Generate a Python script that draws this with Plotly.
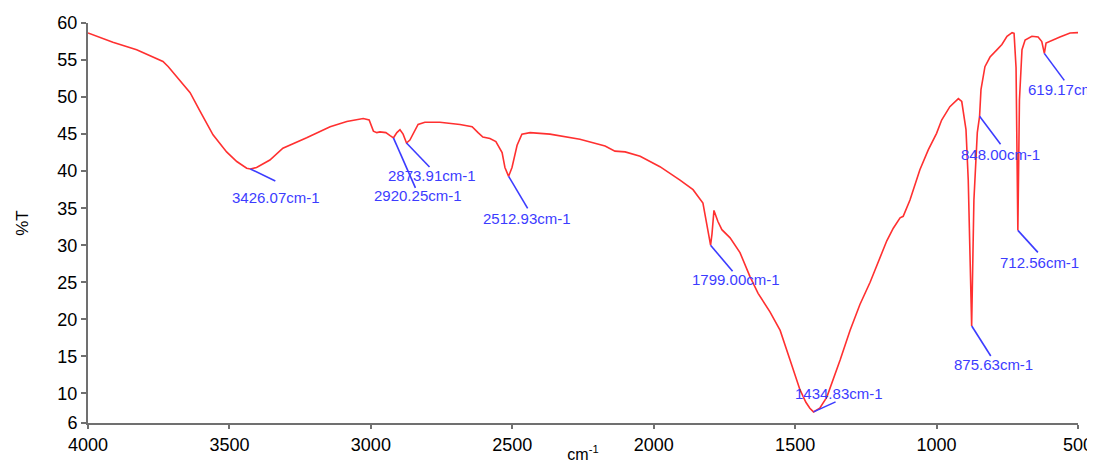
import plotly.graph_objects as go

# Spectrum (wavenumber cm-1, %T)
wavenumber = [4000, 3912, 3828, 3735, 3716, 3675, 3639, 3604, 3558, 3510, 3474, 3439, 3426,
              3404, 3357, 3311, 3227, 3144, 3085, 3027, 3006, 2991, 2979, 2968, 2947, 2932,
              2920, 2908, 2897, 2886, 2874, 2862, 2851, 2833, 2809, 2756, 2685, 2642, 2621,
              2604, 2579, 2558, 2536, 2526, 2513, 2501, 2483, 2466, 2437, 2367, 2261, 2172,
              2137, 2101, 2048, 1978, 1907, 1861, 1826, 1812, 1799, 1794, 1787, 1773, 1759,
              1730, 1695, 1660, 1631, 1589, 1553, 1518, 1483, 1462, 1448, 1435, 1413, 1388,
              1366, 1341, 1306, 1271, 1235, 1200, 1176, 1153, 1129, 1118, 1094, 1059, 1029,
              1000, 982, 953, 923, 911, 896, 888, 876, 868, 856, 848, 843, 829, 811, 786, 769,
              751, 733, 726, 719, 712.6, 707, 698, 687, 663, 641, 628, 619, 613, 599, 564, 528,
              500]
transmittance = [58.65, 57.4, 56.4, 54.8, 54.1, 52.3, 50.6, 48.1, 44.9, 42.6, 41.3, 40.4, 40.3,
                 40.5, 41.5, 43.1, 44.5, 46.0, 46.7, 47.1, 46.9, 45.4, 45.2, 45.3, 45.2, 44.8,
                 44.5, 45.2, 45.6, 45.0, 43.8, 44.2, 45.0, 46.3, 46.6, 46.6, 46.3, 46.0, 45.2,
                 44.6, 44.4, 44.0, 42.5, 40.5, 39.3, 40.5, 43.5, 45.0, 45.2, 45.0, 44.3, 43.4,
                 42.7, 42.6, 42.0, 40.6, 38.8, 37.5, 35.7, 32.5, 30.0, 31.5, 34.7, 33.2, 32.1,
                 31.0, 29.0, 25.8, 23.5, 21.0, 18.5, 14.5, 10.5, 8.8, 8.0, 7.5, 8.0, 9.5,
                 11.8, 14.5, 18.5, 22.0, 25.0, 28.4, 30.6, 32.3, 33.7, 33.9, 36.1, 40.2, 42.9,
                 45.1, 46.9, 48.7, 49.8, 49.4, 45.6, 38.8, 19.1, 36.1, 45.2, 47.4, 51.0, 54.1,
                 55.4, 56.4, 57.1, 58.2, 58.7, 58.6, 54.0, 32.0, 49.6, 56.4, 57.7, 58.2, 58.1,
                 57.5, 55.9, 57.3, 57.5, 58.1, 58.65, 58.7]

# Labelled peaks
peak_wn = [3426.07, 2920.25, 2873.91, 2512.93, 1799.00, 1434.83, 875.63, 848.00, 712.56, 619.17]
peak_T = [40.3, 44.5, 43.8, 39.3, 30.0, 7.5, 19.1, 47.4, 32.0, 55.9]

x_ticks = [4000, 3500, 3000, 2500, 2000, 1500, 1000, 500]
y_ticks = [6, 10, 15, 20, 25, 30, 35, 40, 45, 50, 55, 60]

# leader line end offsets (px, screen: right, down) and text centre offsets
line_off = [(25, 12), (22, 50), (23, 24), (19, 32), (22, 26), (22, -10), (19, 30), (21, 28), (20, 22), (20, 27)]
text_off = [(26, 29), (25, 58), (25, 32), (18, 42), (25, 34), (25, -18), (22, 39), (21, 38), (22, 32), (-18, 36)]

BLUE = "#3c3cff"
fig = go.Figure()
fig.add_trace(go.Scatter(x=wavenumber, y=transmittance, mode="lines",
                         line=dict(color="#ff3030", width=1.6), hoverinfo="skip"))

shapes = []
annotations = []
for i, (wn, t) in enumerate(zip(peak_wn, peak_T)):
    lx, ly = line_off[i]
    shapes.append(dict(type="line", xref="x", yref="y", xsizemode="pixel", ysizemode="pixel",
                       xanchor=wn, yanchor=t, x0=0, y0=0, x1=lx, y1=-ly,
                       line=dict(color=BLUE, width=1.6)))
    tx, ty = text_off[i]
    anchor = "left" if i == len(peak_wn) - 1 else "center"
    annotations.append(dict(x=wn, y=t, xref="x", yref="y", text=f"{wn:.2f}cm-1",
                            showarrow=False, xshift=tx, yshift=-ty, xanchor=anchor,
                            yanchor="middle", font=dict(color=BLUE, size=15,
                                                        family="Liberation Sans, Arial")))

# page body has an 8px margin, so the figure is sized/placed to compensate
fig.update_layout(
    width=1087, height=455,
    margin=dict(l=80, r=17, t=15, b=40),
    paper_bgcolor="white", plot_bgcolor="white",
    showlegend=False,
    font=dict(family="Liberation Sans, Arial", size=18, color="#000000"),
    shapes=shapes, annotations=annotations,
    xaxis=dict(range=[4000, 500], tickvals=x_ticks, ticktext=[str(v) for v in x_ticks],
               automargin=False,
               showgrid=False, zeroline=False, showline=True, linecolor="#707070", linewidth=2,
               ticks="outside", ticklen=4, tickcolor="#707070", tickwidth=1.5,
               title=dict(text="cm<sup>-1</sup>", standoff=0, font=dict(size=16))),
    yaxis=dict(range=[6, 60], tickvals=y_ticks, showgrid=False, zeroline=False,
               automargin=False,
               showline=True, linecolor="#707070", linewidth=2,
               ticks="outside", ticklen=5, tickcolor="#707070", tickwidth=1.5,
               title=dict(text="%T", standoff=24, font=dict(size=17))),
)

fig.write_html("out.html")
